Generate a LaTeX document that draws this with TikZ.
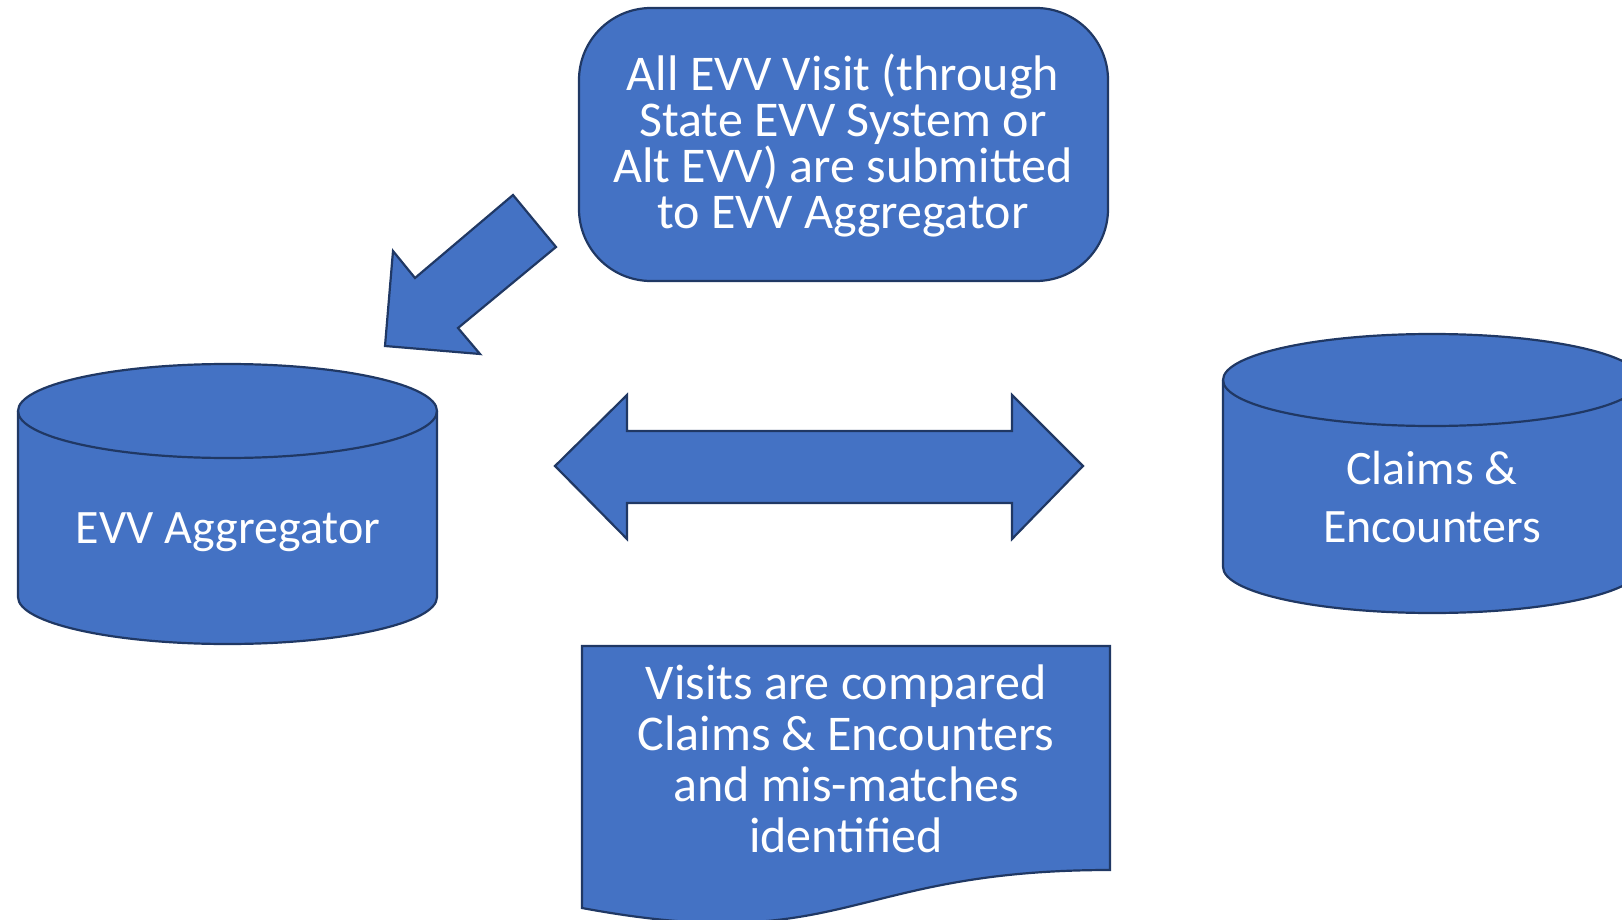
\documentclass[tikz,border=0pt]{standalone}
\usepackage{fontspec}
\setmainfont{Carlito}
\definecolor{blfill}{HTML}{4472C4}
\definecolor{bldraw}{HTML}{203864}
\tikzset{
  shapestyle/.style={fill=blfill, draw=bldraw, line width=2.2pt, line join=miter},
  outlinestyle/.style={draw=bldraw, line width=2.2pt},
  txt/.style={text=white, align=center, inner sep=0pt},
}
\begin{document}
\begin{tikzpicture}[x=1pt,y=-1pt]
\useasboundingbox (0,0) rectangle (1622,920);
% left cylinder
\path[shapestyle] (18,411) -- (18,597) arc[start angle=180,end angle=360,x radius=209.5pt,y radius=47pt]
  -- (437,411) arc[start angle=0,end angle=180,x radius=209.5pt,y radius=47pt] -- cycle;
\draw[outlinestyle] (18,411) arc[start angle=180,end angle=360,x radius=209.5pt,y radius=47pt];
\node[txt, anchor=base, font=\fontsize{48}{58}\selectfont] (evv) at (228,543) {EVV Aggregator};
% right cylinder
\path[shapestyle] (1223,380) -- (1223,567) arc[start angle=180,end angle=360,x radius=209pt,y radius=46pt]
  -- (1641,380) arc[start angle=0,end angle=180,x radius=209pt,y radius=46pt] -- cycle;
\draw[outlinestyle] (1223,380) arc[start angle=180,end angle=360,x radius=209pt,y radius=46pt];
\node[txt, anchor=center, font=\fontsize{48}{58}\selectfont] (claims) at (1432,497) {Claims \&\\Encounters};
% top rounded box
\path[shapestyle, rounded corners=72pt] (579,8) rectangle (1108,281);
\node[txt, font=\fontsize{50}{46}\selectfont] (visit) at (843,146)
  {All EVV Visit (through\\State EVV System or\\Alt EVV) are submitted\\to EVV Aggregator};
% diagonal arrow
\path[shapestyle] (513,195) -- (556,247) -- (458,328) -- (480,354) -- (385,346) -- (393,251) -- (415,278) -- cycle;
% double arrow
\path[shapestyle] (555,466) -- (627,395) -- (627,431) -- (1012,431) -- (1012,395) -- (1083,466)
  -- (1012,539) -- (1012,503) -- (627,503) -- (627,539) -- cycle;
% document shape
\path[shapestyle] (582,646) -- (1110,646) -- (1110,870) .. controls (846,870) and (846,957) .. (582,908) -- cycle;
\node[txt, font=\fontsize{50}{51}\selectfont] (cmp) at (846,759)
  {Visits are compared\\Claims \& Encounters\\and mis-matches\\identified};
\end{tikzpicture}
\end{document}
